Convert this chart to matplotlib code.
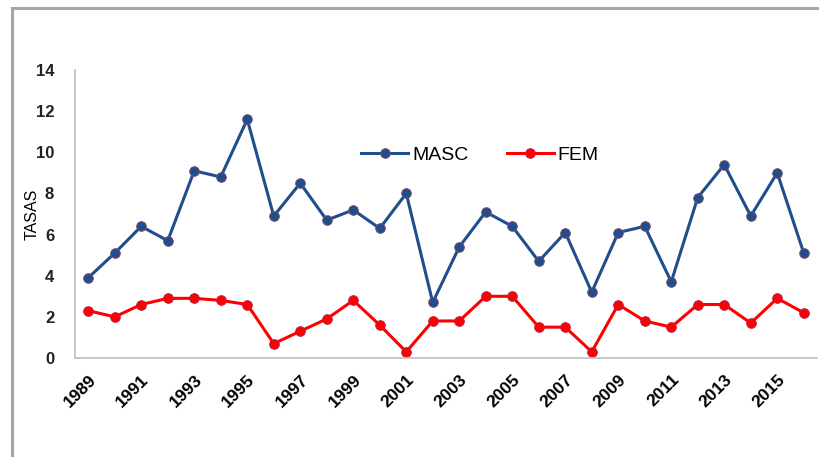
import matplotlib
matplotlib.use("Agg")
import matplotlib.pyplot as plt
import matplotlib.patches as mpatches

# ---------------------------------------------------------------------------
# Data
# ---------------------------------------------------------------------------
years = list(range(1989, 2017))
masc = [3.9, 5.1, 6.4, 5.7, 9.1, 8.8, 11.6, 6.9, 8.5, 6.7, 7.2, 6.3, 8.0, 2.7,
        5.4, 7.1, 6.4, 4.7, 6.1, 3.2, 6.1, 6.4, 3.7, 7.8, 9.4, 6.9, 9.0, 5.1]
fem = [2.3, 2.0, 2.6, 2.9, 2.9, 2.8, 2.6, 0.7, 1.3, 1.9, 2.8, 1.6, 0.3, 1.8,
       1.8, 3.0, 3.0, 1.5, 1.5, 0.3, 2.6, 1.8, 1.5, 2.6, 2.6, 1.7, 2.9, 2.2]
tick_years = list(range(1989, 2016, 2))
y_ticks = list(range(0, 15, 2))

plt.rcParams["font.family"] = ["Liberation Sans", "DejaVu Sans"]

fig = plt.figure(figsize=(8.2, 4.57), dpi=100)

# chart-area frame (gray border running off right/bottom)
fig.patches.append(mpatches.Rectangle(
    (12 / 820, -0.05), 1.2, 1 - 8 / 457 + 0.05,
    transform=fig.transFigure, fill=False, edgecolor="#A6A6A6", linewidth=2.2))

ax = fig.add_axes([75 / 820, 1 - 358 / 457, 742 / 820, 288 / 457])

blue = "#1F4E8C"
red = "#FF0000"
ax.plot(years, masc, color=blue, linewidth=2.2, marker="o", markersize=7,
        markerfacecolor=blue, markeredgecolor="#8A4A6A", markeredgewidth=0.6,
        label="MASC")
ax.plot(years, fem, color=red, linewidth=2.2, marker="o", markersize=7,
        markerfacecolor=red, markeredgecolor="#B02050", markeredgewidth=0.6,
        label="FEM")

ax.set_xlim(1988.5, 2016.5)
ax.set_ylim(0, 14)
ax.set_yticks(y_ticks)
ax.set_yticklabels([str(v) for v in y_ticks], fontsize=12, fontweight="bold",
                   color="#222222")
ax.set_xticks(tick_years)
ax.set_xticklabels([str(y) for y in tick_years], fontsize=12.5, fontweight="bold",
                   rotation=45, ha="right", rotation_mode="anchor")
ax.tick_params(axis="y", length=0, pad=15)
ax.tick_params(axis="x", length=0, pad=10)
ax.set_ylabel("TASAS", fontsize=11.5)
ax.yaxis.set_label_coords(-0.048, 0.5)

for s in ("top", "right"):
    ax.spines[s].set_visible(False)
for s in ("left", "bottom"):
    ax.spines[s].set_color("#BFBFBF")
    ax.spines[s].set_linewidth(1.2)

ax.legend(loc="center", bbox_to_anchor=(0.546, 0.705), ncol=2, frameon=False,
          fontsize=14, handlelength=2.4, columnspacing=2.0, handletextpad=0.2)

fig.savefig("out.png", dpi=100)
